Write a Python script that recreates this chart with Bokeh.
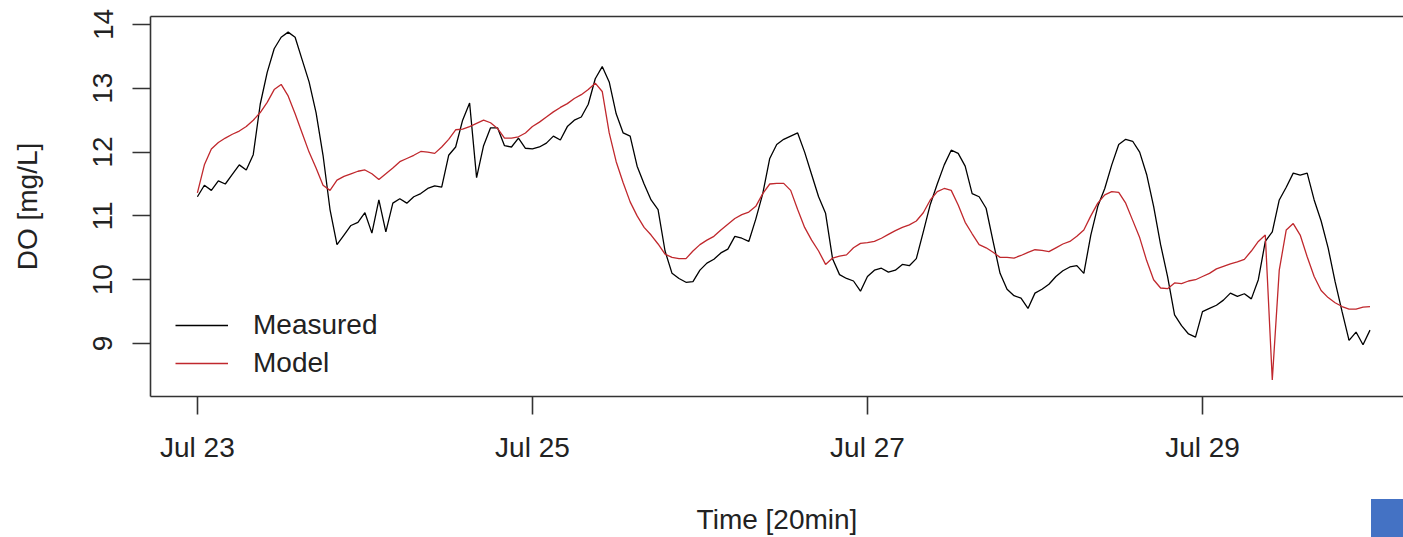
import pandas as pd
from bokeh.plotting import figure
from bokeh.models import (Range1d, FixedTicker, LinearAxis, Legend, LegendItem,
                          DatetimeTickFormatter, InlineStyleSheet)
from bokeh.embed import file_html
from bokeh.resources import INLINE

# Dissolved oxygen, hourly samples from Jul 23 00:00 to Jul 30 00:00
start = "2019-07-23 00:00"

measured = [
    11.30, 11.48, 11.40, 11.55, 11.50, 11.65, 11.80, 11.72, 11.96, 12.75,
    13.25, 13.62, 13.80, 13.88, 13.80, 13.45, 13.10, 12.62, 11.95, 11.10,
    10.55, 10.70, 10.85, 10.90, 11.05, 10.73, 11.25, 10.75, 11.20, 11.27,
    11.20, 11.30, 11.35, 11.43, 11.47, 11.45, 11.95, 12.08, 12.50, 12.77,
    11.60, 12.10, 12.38, 12.38, 12.10, 12.08, 12.22, 12.06, 12.05, 12.08,
    12.14, 12.25, 12.19, 12.40, 12.50, 12.55, 12.75, 13.15, 13.34, 13.10,
    12.60, 12.30, 12.25, 11.78, 11.50, 11.25, 11.10, 10.45, 10.10, 10.02,
    9.96, 9.97, 10.15, 10.26, 10.32, 10.42, 10.48, 10.68, 10.65, 10.60,
    10.95, 11.35, 11.90, 12.12, 12.20, 12.25, 12.30, 12.00, 11.65, 11.30,
    11.04, 10.33, 10.08, 10.02, 9.98, 9.82, 10.05, 10.15, 10.18, 10.12,
    10.15, 10.24, 10.22, 10.33, 10.75, 11.18, 11.50, 11.80, 12.03, 11.98,
    11.78, 11.35, 11.30, 11.12, 10.60, 10.10, 9.85, 9.75, 9.71, 9.55,
    9.79, 9.85, 9.93, 10.05, 10.14, 10.20, 10.22, 10.10, 10.70, 11.15,
    11.43, 11.80, 12.12, 12.20, 12.17, 12.00, 11.65, 11.15, 10.55, 10.05,
    9.45, 9.28, 9.15, 9.10, 9.50, 9.55, 9.60, 9.68, 9.79, 9.74,
    9.78, 9.70, 10.00, 10.60, 10.75, 11.25, 11.45, 11.67, 11.64, 11.67,
    11.25, 10.92, 10.50, 9.97, 9.50, 9.05, 9.18, 8.98, 9.21,
]

model = [
    11.36, 11.80, 12.05, 12.15, 12.22, 12.28, 12.33, 12.40, 12.50, 12.62,
    12.78, 12.98, 13.06, 12.88, 12.60, 12.30, 12.00, 11.75, 11.48, 11.40,
    11.56, 11.62, 11.66, 11.70, 11.72, 11.66, 11.57, 11.66, 11.75, 11.85,
    11.90, 11.95, 12.01, 12.00, 11.98, 12.08, 12.20, 12.35, 12.36, 12.40,
    12.45, 12.50, 12.46, 12.37, 12.22, 12.22, 12.24, 12.30, 12.40, 12.47,
    12.55, 12.63, 12.70, 12.76, 12.84, 12.90, 12.98, 13.08, 12.95, 12.30,
    11.85, 11.52, 11.22, 11.00, 10.82, 10.70, 10.56, 10.40, 10.35, 10.33,
    10.33, 10.45, 10.55, 10.62, 10.68, 10.78, 10.87, 10.96, 11.02, 11.06,
    11.15, 11.35, 11.50, 11.51, 11.51, 11.40, 11.10, 10.82, 10.62, 10.45,
    10.24, 10.34, 10.37, 10.39, 10.50, 10.57, 10.58, 10.60, 10.65, 10.71,
    10.77, 10.82, 10.86, 10.92, 11.05, 11.25, 11.38, 11.43, 11.40, 11.17,
    10.90, 10.72, 10.55, 10.50, 10.43, 10.35, 10.35, 10.34, 10.38, 10.43,
    10.47, 10.46, 10.44, 10.50, 10.56, 10.60, 10.68, 10.78, 11.00, 11.20,
    11.33, 11.38, 11.37, 11.20, 10.93, 10.66, 10.30, 10.00, 9.87, 9.86,
    9.95, 9.94, 9.98, 10.00, 10.05, 10.10, 10.17, 10.21, 10.25, 10.28,
    10.32, 10.45, 10.60, 10.70, 8.43, 10.15, 10.78, 10.88, 10.70, 10.36,
    10.05, 9.83, 9.72, 9.64, 9.58, 9.54, 9.54, 9.57, 9.58,
]

y_ticks = [9, 10, 11, 12, 13, 14]
tick_dates = ["2019-07-23", "2019-07-25", "2019-07-27", "2019-07-29"]

times = pd.date_range(start, periods=len(measured), freq="h")
t0 = times[0]

FONT = "Liberation Sans"
INK = "#222222"
SIZE = "28px"

# small blue marker pinned to the lower right corner of the canvas
corner_css = InlineStyleSheet(css="""
:host::after {
  content: "";
  position: absolute;
  right: 0;
  bottom: 0;
  width: 32px;
  height: 38px;
  background: #4472C4;
  z-index: 10;
}
""")

p = figure(
    width=1403, height=537,
    x_axis_type="datetime",
    x_range=Range1d(t0 - pd.Timedelta(hours=6.72), t0 + pd.Timedelta(hours=172.8)),
    y_range=Range1d(8.17, 14.125),
    output_backend="svg", toolbar_location=None,
    min_border_left=150, min_border_right=0, min_border_top=16, min_border_bottom=141,
    outline_line_color=None,
    stylesheets=[corner_css],
)
p.grid.visible = False
p.background_fill_color = "white"
p.border_fill_color = "white"

r_meas = p.line(times, measured, line_color="black", line_width=1.3)
r_mod = p.line(times, model, line_color="#c0282d", line_width=1.3)

# x axis
xa = p.xaxis[0]
xa.ticker = FixedTicker(ticks=[pd.Timestamp(d).value // 10**6 for d in tick_dates])
xa.formatter = DatetimeTickFormatter(days="%b %d", months="%b %d", hours="%b %d")
xa.axis_label = "Time [20min]"

# y axis
ya = p.yaxis[0]
ya.ticker = FixedTicker(ticks=y_ticks)
ya.axis_label = "DO [mg/L]"
ya.major_label_orientation = "vertical"

for ax in (xa, ya):
    ax.axis_line_color = "#333333"
    ax.axis_line_width = 1.6
    ax.major_tick_line_color = "#333333"
    ax.major_tick_line_width = 1.6
    ax.major_tick_out = 18
    ax.major_tick_in = 0
    ax.minor_tick_line_color = None
    ax.major_label_text_font = FONT
    ax.major_label_text_font_size = SIZE
    ax.major_label_text_color = INK
    ax.axis_label_text_font = FONT
    ax.axis_label_text_font_size = SIZE
    ax.axis_label_text_font_style = "normal"
    ax.axis_label_text_color = INK

xa.major_label_standoff = 17
xa.axis_label_standoff = 38
ya.major_label_standoff = 20
ya.axis_label_standoff = 48

# top edge of the plot box
top = LinearAxis(ticker=FixedTicker(ticks=[]), axis_line_color="#333333", axis_line_width=1.6,
                 major_tick_line_color=None, minor_tick_line_color=None,
                 major_label_text_font_size="0px")
p.add_layout(top, "above")

legend = Legend(
    items=[LegendItem(label="Measured", renderers=[r_meas]),
           LegendItem(label="Model", renderers=[r_mod])],
    location=(25, 17),
    background_fill_alpha=0, border_line_color=None,
    glyph_width=53, glyph_height=30, label_height=30,
    label_standoff=25, spacing=6, padding=0, margin=0,
    label_text_font=FONT, label_text_font_size=SIZE, label_text_color=INK,
)
p.add_layout(legend)

open("out.html", "w").write(file_html(p, INLINE))
